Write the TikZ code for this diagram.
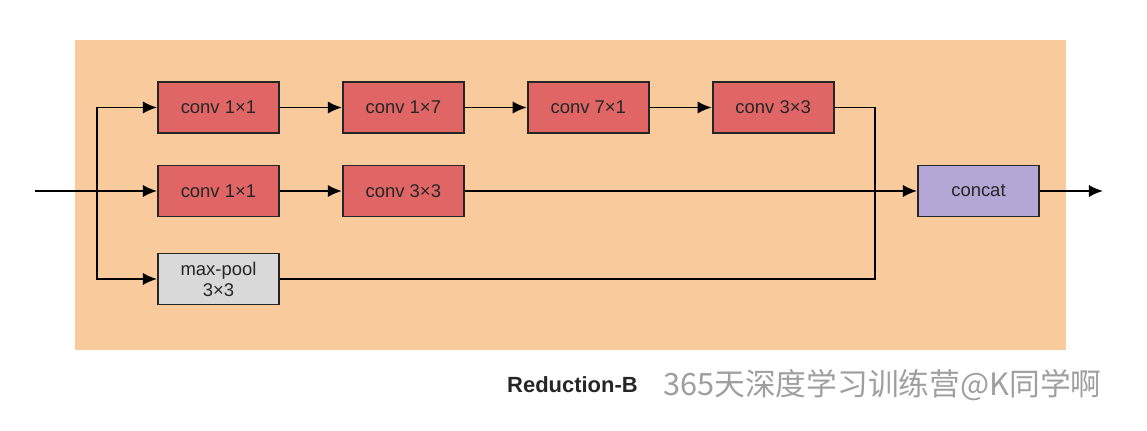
\documentclass[tikz,border=0pt]{standalone}
\usepackage{fontspec}
\setmainfont{Liberation Sans}
\newfontfamily\cjkfont{Noto Sans CJK SC}
\usepackage{xcolor}
\usetikzlibrary{arrows.meta,positioning,calc}
\definecolor{bgorange}{HTML}{F9CB9C}
\definecolor{convred}{HTML}{E06666}
\definecolor{poolgray}{HTML}{D9D9D9}
\definecolor{catpurple}{HTML}{B4A7D6}

\begin{document}
\begin{tikzpicture}[
  x=0.02cm, y=-0.02cm,
  every node/.style={font=\fontsize{10.5}{12}\selectfont, text=black!85},
  block/.style={draw=black!85, line width=1.1pt, minimum width=2.42cm,
                minimum height=1.02cm, inner sep=2pt, align=center},
  conv/.style={block, fill=convred},
  arr/.style={-{Latex[length=8pt,width=7pt]}, line width=1.1pt},
  wire/.style={line width=1.1pt},
  node distance=1.24cm
]
\useasboundingbox (0,0) rectangle (1147,430);
\fill[bgorange] (75,40) rectangle (1066,350);

% branch 1
\node[conv, anchor=west] (a1) at (157,107.5) {conv 1×1};
\node[conv, right=of a1] (a2) {conv 1×7};
\node[conv, right=of a2] (a3) {conv 7×1};
\node[conv, right=of a3] (a4) {conv 3×3};

% branch 2
\node[conv, anchor=west] (b1) at (157,191) {conv 1×1};
\node[conv, right=of b1] (b2) {conv 3×3};

% branch 3
\node[block, fill=poolgray, anchor=west] (c1) at (157,279)
  {max-pool\\3×3};

\node[block, fill=catpurple, anchor=west] (cat) at (917,191) {concat};

\coordinate (in) at (35,191);
\coordinate (split) at (97,191);
\coordinate (merge) at (875,191);
\coordinate (out) at (1103,191);

\draw[wire] (in) -- (split);
\draw[arr] (split) |- (a1);
\draw[arr] (split) -- (b1);
\draw[arr] (split) |- (c1);

\draw[arr] (a1) -- (a2);
\draw[arr] (a2) -- (a3);
\draw[arr] (a3) -- (a4);
\draw[arr] (b1) -- (b2);

\draw[wire] (a4.east) -| (merge);
\draw[wire] (c1.east) -| (merge);
\draw[arr] (b2.east) -- (cat.west);
\draw[arr] (cat) -- (out);

\node[font=\bfseries\fontsize{12.5}{14}\selectfont, anchor=west] (title)
  at (501,385) {Reduction-B};
\node[font=\cjkfont\fontsize{17.5}{20}\selectfont, text=gray!75, anchor=west]
  (mark) at (657,385) {365天深度学习训练营@K同学啊};
\end{tikzpicture}
\end{document}
